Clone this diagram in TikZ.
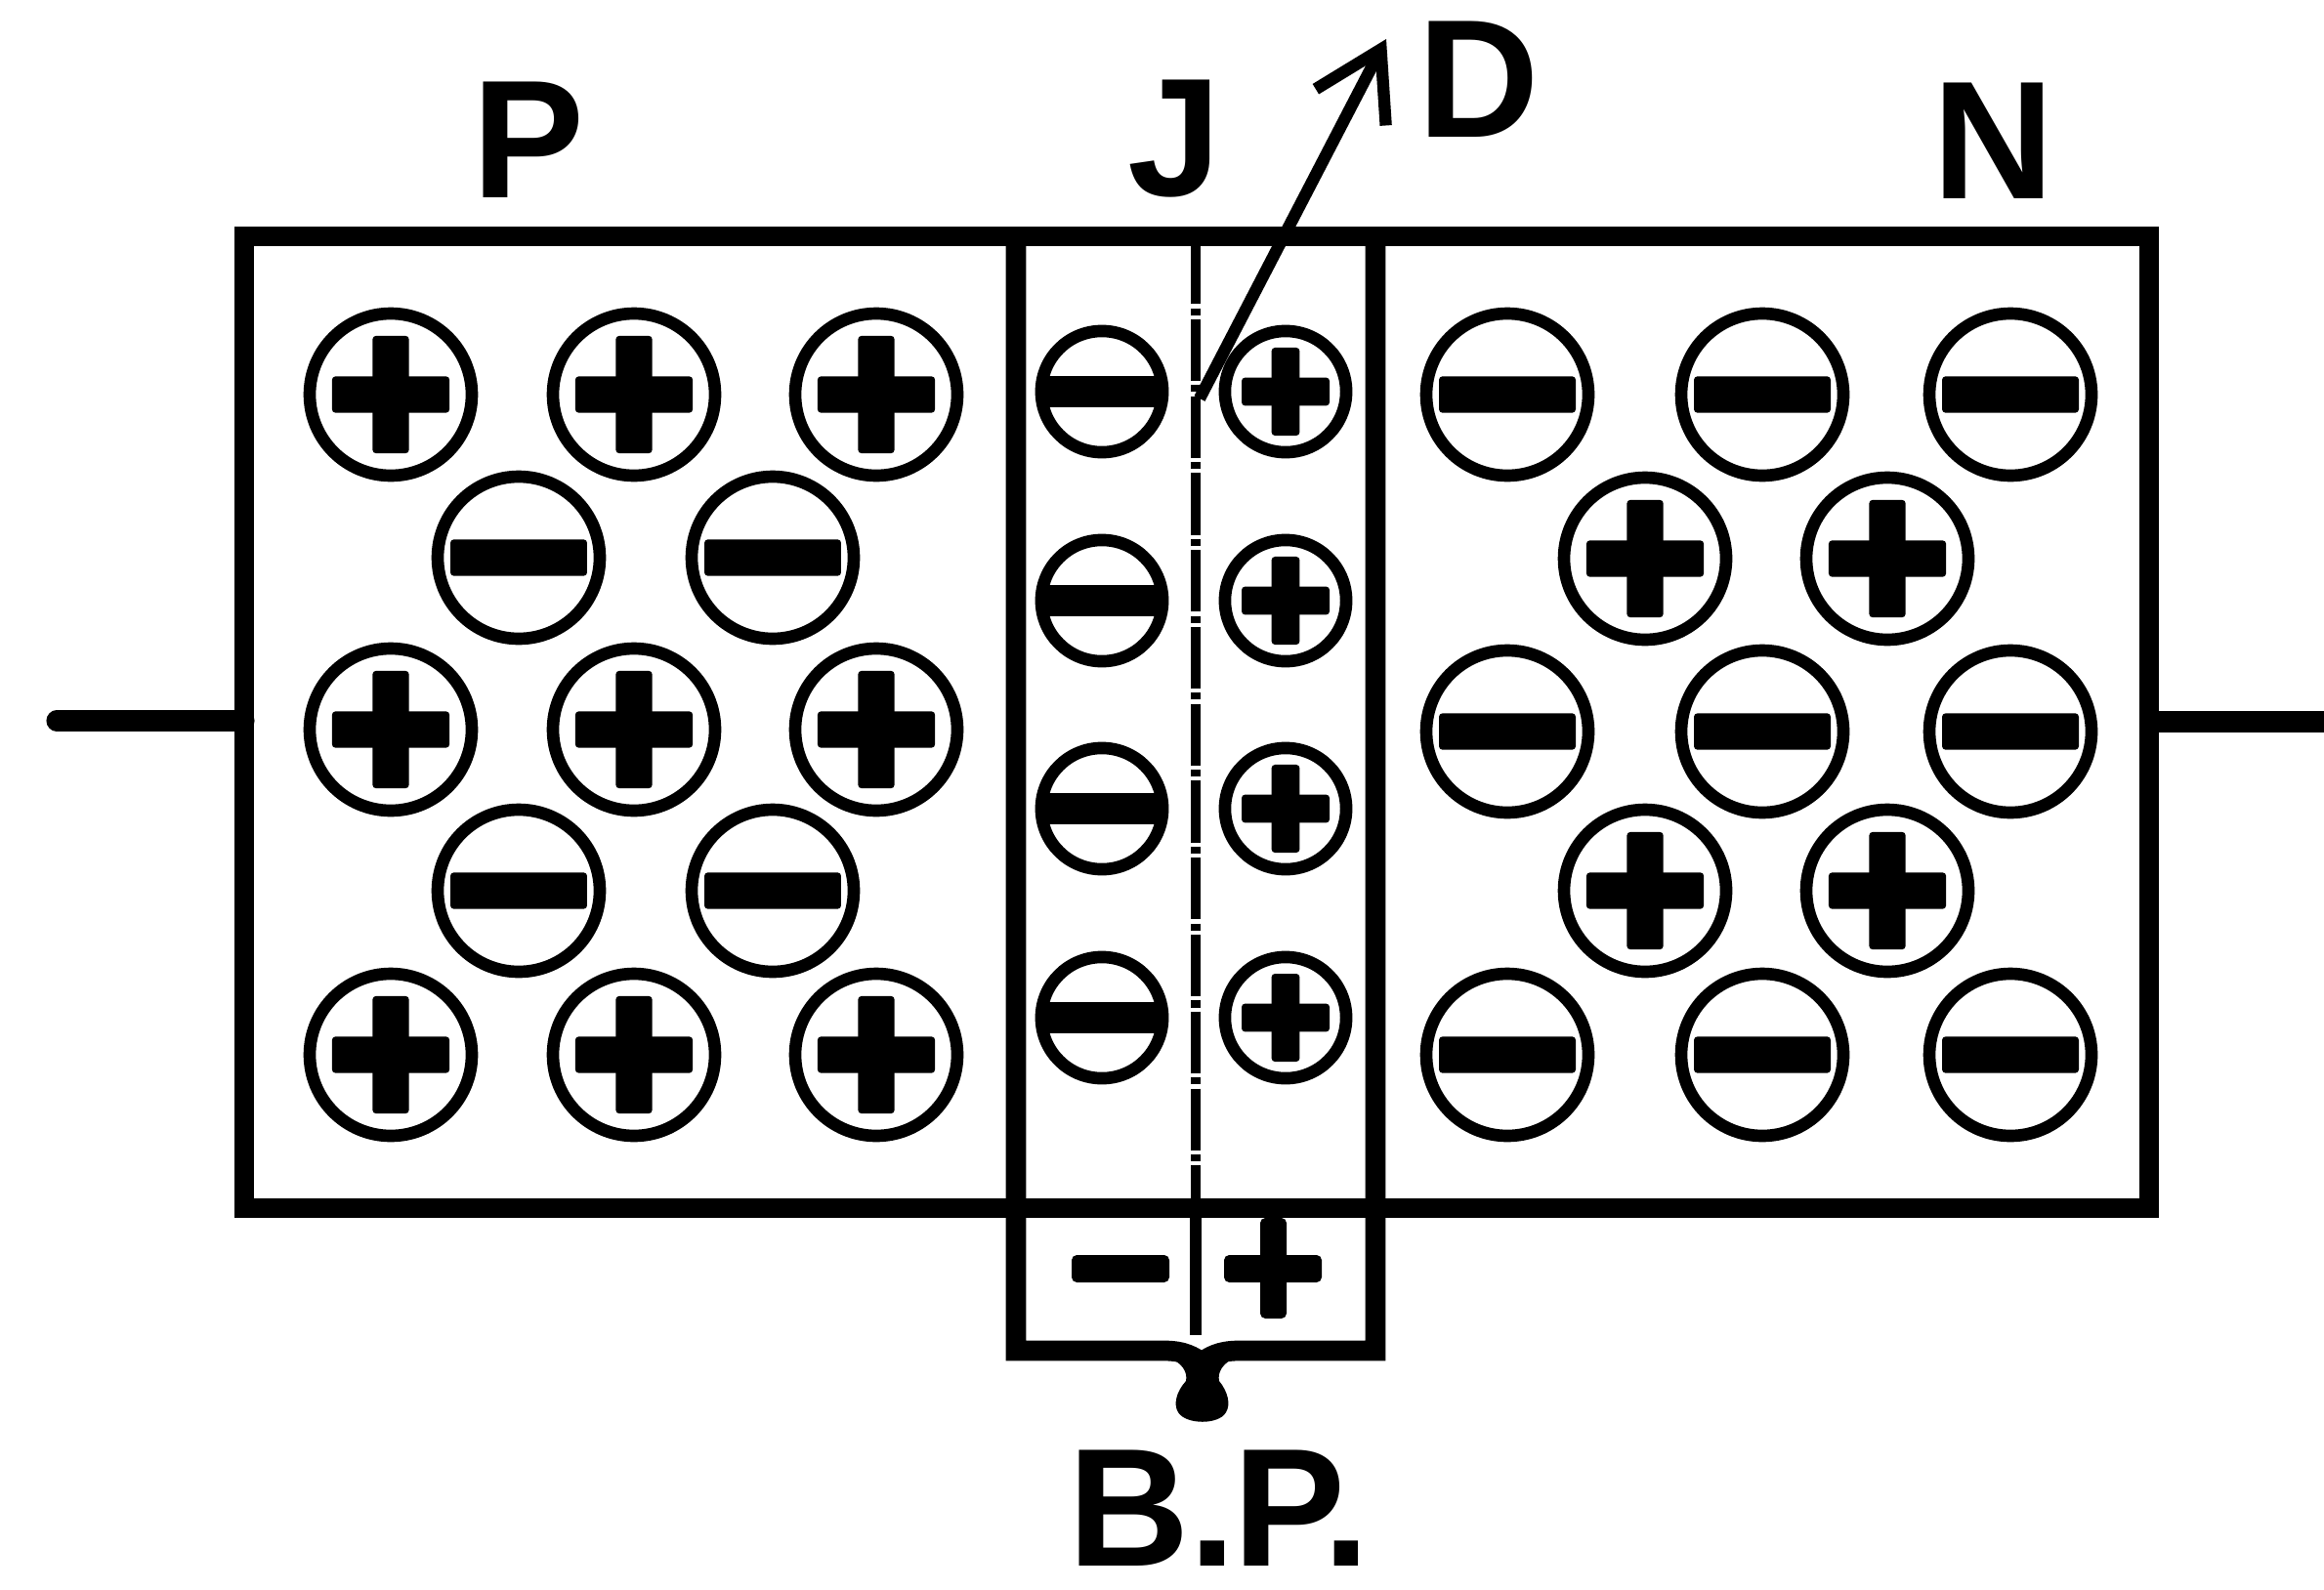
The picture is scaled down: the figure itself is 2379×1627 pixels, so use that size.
\documentclass[tikz,border=0pt]{standalone}
\usepackage{fontspec}
\setmainfont{Liberation Sans}
\usetikzlibrary{arrows.meta}
\begin{document}
\begin{tikzpicture}[x=0.01cm,y=-0.01cm,
  wall/.style={line width=5.9pt},
  lab/.style={inner sep=0pt, text depth=0pt, font=\fontsize{49}{49}\selectfont\bfseries},
  ring/.style={circle, draw, line width=3.6pt, inner sep=0pt},
  bigion/.style={ring, minimum size=47.2pt},
  smallion/.style={ring, minimum size=35.3pt},
  bigminus/.style={bigion, path picture={
    \fill[rounded corners=1pt] ([shift={(-19.9pt,-5.3pt)}]path picture bounding box.center) rectangle ([shift={(19.9pt,5.3pt)}]path picture bounding box.center);}},
  bigplus/.style={bigion, path picture={
    \fill[rounded corners=1pt] ([shift={(-17.1pt,-5.3pt)}]path picture bounding box.center) rectangle ([shift={(17.1pt,5.3pt)}]path picture bounding box.center);
    \fill[rounded corners=1pt] ([shift={(-5.3pt,-17.1pt)}]path picture bounding box.center) rectangle ([shift={(5.3pt,17.1pt)}]path picture bounding box.center);}},
  smallminus/.style={smallion, path picture={
    \fill ([shift={(-18pt,-4.5pt)}]path picture bounding box.center) rectangle ([shift={(18pt,4.5pt)}]path picture bounding box.center);}},
  smallplus/.style={smallion, path picture={
    \fill[rounded corners=1pt] ([shift={(-12.8pt,-4.1pt)}]path picture bounding box.center) rectangle ([shift={(12.8pt,4.1pt)}]path picture bounding box.center);
    \fill[rounded corners=1pt] ([shift={(-4.1pt,-12.8pt)}]path picture bounding box.center) rectangle ([shift={(4.1pt,12.8pt)}]path picture bounding box.center);}},
  signbar/.style={fill, rounded corners=1.5pt},
  pointer/.style={line width=3.5pt, -{Straight Barb[length=19pt, width=23pt, line width=3.5pt]}}
]
\useasboundingbox (0,0) rectangle (2379,1627);

% leads
\coordinate (leadL) at (58,738);
\coordinate (leadR) at (2379,739);
\draw[line width=6pt, line cap=round] (leadL) -- (250,738);
\draw[line width=6pt] (2200,739) -- (leadR);

% main body
\draw[wall] (250,242) rectangle (2200,1237);

% junction box with brace
\draw[wall, line join=miter] (1040,242) -- (1040,1383) -- (1192,1383)
  .. controls (1212,1383) and (1222,1389) .. (1230,1395)
  .. controls (1238,1389) and (1248,1383) .. (1268,1383)
  -- (1408,1383) -- (1408,242);
\fill (1196,1390) .. controls (1210,1395) and (1216,1405) .. (1214,1414)
  .. controls (1204,1425) and (1201,1438) .. (1206,1446)
  .. controls (1214,1459) and (1248,1459) .. (1255,1446)
  .. controls (1260,1438) and (1257,1425) .. (1248,1414)
  .. controls (1246,1405) and (1252,1395) .. (1265,1390) -- cycle;

% centre line of the junction
\draw[line width=3pt, dash pattern=on 18pt off 1.2pt on 2pt off 1.2pt] (1224,248) -- (1224,1232);
\draw[line width=3.2pt] (1224,1237) -- (1224,1367);

% signs under the junction
\fill[signbar] (1097,1285) rectangle (1197,1313);
\fill[signbar] (1253,1285) rectangle (1353,1313);
\fill[signbar] (1290,1247) rectangle (1317,1350);

% P region
\foreach \x/\n in {400/a,649/b,897/c}
  \foreach \y/\m in {404/1,747/3,1080/5}
    \node[bigplus] (P\n\m) at (\x,\y) {};
\foreach \x/\n in {531/a,791/b}
  \foreach \y/\m in {571/2,912/4}
    \node[bigminus] (P\n\m) at (\x,\y) {};

% N region
\foreach \x/\n in {1543/a,1804/b,2058/c}
  \foreach \y/\m in {404/1,749/3,1080/5}
    \node[bigminus] (N\n\m) at (\x,\y) {};
\foreach \x/\n in {1684/a,1932/b}
  \foreach \y/\m in {572/2,912/4}
    \node[bigplus] (N\n\m) at (\x,\y) {};

% junction ions
\foreach \y/\m in {401/1,615/2,828/3,1042/4} {
  \node[smallminus] (Jm\m) at (1128,\y) {};
  \node[smallplus] (Jp\m) at (1316,\y) {};
}

% labels
\node[lab, anchor=base] (labP) at (541,202) {P};
\node[lab, anchor=base] (labJ) at (1202,200) {J};
\node[lab, anchor=base] (labD) at (1514,140) {D};
\node[lab, anchor=base] (labN) at (2041,203) {N};
\node[lab, anchor=base] (labBP) at (1248,1603) {B.\kern-1pt P.};

% arrow D
\coordinate (arrS) at (1228,408);
\coordinate (arrT) at (1419,40);
\draw[pointer] (arrS) -- (arrT);
\end{tikzpicture}
\end{document}
